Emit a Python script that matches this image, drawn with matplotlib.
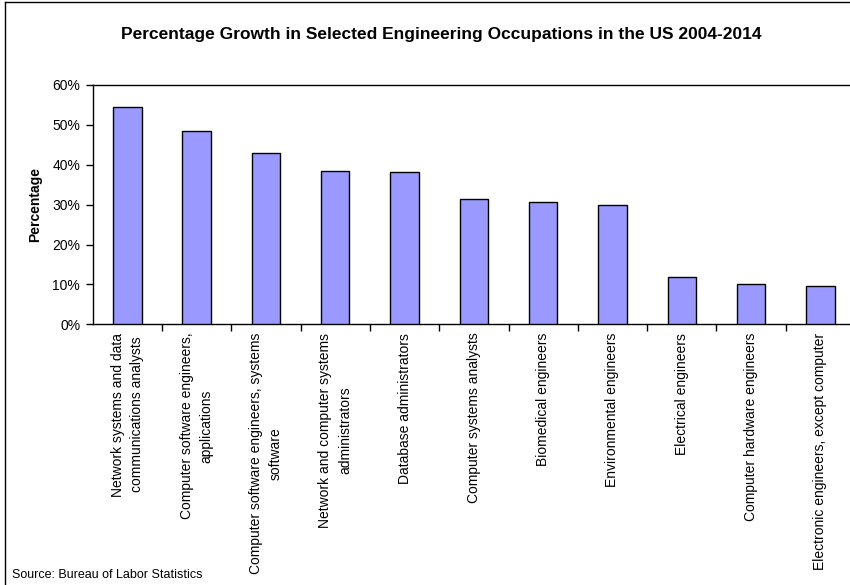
import matplotlib
matplotlib.use("Agg")
import matplotlib.pyplot as plt
from matplotlib.lines import Line2D
from matplotlib.ticker import FixedLocator, FuncFormatter

plt.rcParams['font.family'] = ['Liberation Sans', 'DejaVu Sans']

occupations = [
    "Network systems and data\ncommunications analysts",
    "Computer software engineers,\napplications",
    "Computer software engineers, systems\nsoftware",
    "Network and computer systems\nadministrators",
    "Database administrators",
    "Computer systems analysts",
    "Biomedical engineers",
    "Environmental engineers",
    "Electrical engineers",
    "Computer hardware engineers",
    "Electronic engineers, except computer",
]
growth_pct = [54.6, 48.4, 43.0, 38.4, 38.1, 31.4, 30.7, 30.0, 11.8, 10.1, 9.7]
y_ticks = [0, 10, 20, 30, 40, 50, 60]

W, H = 850, 585
fig = plt.figure(figsize=(W / 100, H / 100), dpi=100)

ax_left, ax_right = 92.7, 855.0
ax_top, ax_bottom = 85.0, 324.3
ax = fig.add_axes([ax_left / W, 1 - ax_bottom / H,
                   (ax_right - ax_left) / W, (ax_bottom - ax_top) / H])

x = list(range(len(occupations)))
ax.bar(x, growth_pct, width=0.41, color="#9999FF", edgecolor="black",
       linewidth=1.0, zorder=3)

ax.set_xlim(-0.5, len(occupations) - 0.5)
ax.set_ylim(0, 60)
ax.yaxis.set_major_locator(FixedLocator(y_ticks))
ax.yaxis.set_major_formatter(FuncFormatter(lambda v, p: f"{v:.0f}%"))
ax.tick_params(axis="y", direction="out", length=5, width=1, labelsize=10,
               pad=4, colors="black")

ax.set_xticks(x)
ax.set_xticklabels(occupations, rotation=90, fontsize=10, linespacing=1.5,
                   multialignment="center")
ax.tick_params(axis="x", which="major", length=0, pad=6)
ax.set_xticks([i + 0.5 for i in x[:-1]] + [len(x) - 0.5], minor=True)
ax.tick_params(axis="x", which="minor", direction="out", length=5, width=1)

for side in ["left", "bottom", "top"]:
    ax.spines[side].set_linewidth(1.0)
    ax.spines[side].set_color("black")
ax.spines["right"].set_visible(False)

ax.set_ylabel("Percentage", fontsize=10, fontweight="bold", labelpad=7)

fig.text(441 / W, 1 - 35 / H,
         "Percentage Growth in Selected Engineering Occupations in the US 2004-2014",
         ha="center", va="center", fontsize=12.5, fontweight="bold")
fig.text(12 / W, 1 - 575 / H, "Source: Bureau of Labor Statistics",
         ha="left", va="center", fontsize=9)

# outer chart frame (left and top edges)
fig.add_artist(Line2D([4.5 / W, 4.5 / W], [0, 1 - 1.5 / H], color="black",
                      linewidth=1.0, transform=fig.transFigure))
fig.add_artist(Line2D([4.5 / W, 1], [1 - 1.5 / H, 1 - 1.5 / H], color="black",
                      linewidth=1.0, transform=fig.transFigure))

fig.savefig("out.png", dpi=100)
